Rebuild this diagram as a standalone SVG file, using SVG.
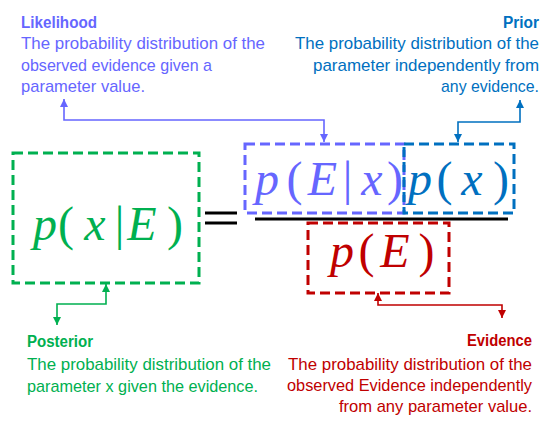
<svg xmlns="http://www.w3.org/2000/svg" width="554" height="426" viewBox="0 0 554 426">
<style>
.lbl{font-family:"Liberation Sans",Arial,sans-serif;font-size:17px}
.ttl{font-family:"Liberation Sans",Arial,sans-serif;font-size:16px;font-weight:bold}
.math{font-family:"Liberation Serif","DejaVu Serif",serif;font-size:48px;text-anchor:middle}
.it{font-style:italic}
.box{fill:none;stroke-width:3;stroke-dasharray:10 5}
.conn{fill:none;stroke-width:1.6}
</style>
<defs>
<marker id="aL" viewBox="0 0 10 10" refX="10" refY="5" markerWidth="8" markerHeight="8" markerUnits="userSpaceOnUse" orient="auto-start-reverse"><path d="M0,0L10,5L0,10z" fill="#6666FF"/></marker>
<marker id="aP" viewBox="0 0 10 10" refX="10" refY="5" markerWidth="8" markerHeight="8" markerUnits="userSpaceOnUse" orient="auto-start-reverse"><path d="M0,0L10,5L0,10z" fill="#0070C0"/></marker>
<marker id="aG" viewBox="0 0 10 10" refX="10" refY="5" markerWidth="8" markerHeight="8" markerUnits="userSpaceOnUse" orient="auto-start-reverse"><path d="M0,0L10,5L0,10z" fill="#00B050"/></marker>
<marker id="aR" viewBox="0 0 10 10" refX="10" refY="5" markerWidth="8" markerHeight="8" markerUnits="userSpaceOnUse" orient="auto-start-reverse"><path d="M0,0L10,5L0,10z" fill="#C00000"/></marker>
</defs>
<rect width="554" height="426" fill="#fff"/>

<g id="likelihood-label" fill="#6666FF">
<text class="ttl" x="21" y="28" textLength="76" lengthAdjust="spacingAndGlyphs">Likelihood</text>
<text class="lbl" x="21" y="49" textLength="244" lengthAdjust="spacingAndGlyphs">The probability distribution of the</text>
<text class="lbl" x="21" y="70.5" textLength="191" lengthAdjust="spacingAndGlyphs">observed evidence given a</text>
<text class="lbl" x="21" y="92" textLength="124" lengthAdjust="spacingAndGlyphs">parameter value.</text>
</g>

<g id="prior-label" fill="#0070C0" text-anchor="end">
<text class="ttl" x="539" y="28" textLength="36" lengthAdjust="spacingAndGlyphs">Prior</text>
<text class="lbl" x="539" y="49" textLength="244" lengthAdjust="spacingAndGlyphs">The probability distribution of the</text>
<text class="lbl" x="539" y="70.5" textLength="226" lengthAdjust="spacingAndGlyphs">parameter independently from</text>
<text class="lbl" x="539" y="92" textLength="98" lengthAdjust="spacingAndGlyphs">any evidence.</text>
</g>

<g id="posterior-label" fill="#00B050">
<text class="ttl" x="27" y="347" textLength="66" lengthAdjust="spacingAndGlyphs">Posterior</text>
<text class="lbl" x="27" y="370" textLength="244" lengthAdjust="spacingAndGlyphs">The probability distribution of the</text>
<text class="lbl" x="27" y="391.5" textLength="231" lengthAdjust="spacingAndGlyphs">parameter x given the evidence.</text>
</g>

<g id="evidence-label" fill="#C00000" text-anchor="end">
<text class="ttl" x="532" y="346" textLength="65" lengthAdjust="spacingAndGlyphs">Evidence</text>
<text class="lbl" x="532" y="370" textLength="244" lengthAdjust="spacingAndGlyphs">The probability distribution of the</text>
<text class="lbl" x="532" y="391" textLength="245" lengthAdjust="spacingAndGlyphs">observed Evidence independently</text>
<text class="lbl" x="532" y="412" textLength="193" lengthAdjust="spacingAndGlyphs">from any parameter value.</text>
</g>

<g id="posterior">
<rect class="box" x="13" y="153" width="186" height="130" stroke="#00B050"/>
<text class="math" y="240" fill="#00B050"><tspan class="it" x="45">p</tspan><tspan x="66">(</tspan><tspan class="it" x="95">x</tspan><tspan x="119.5">|</tspan><tspan class="it" x="142">E</tspan><tspan x="175">)</tspan></text>
</g>

<g id="equals" stroke="#000" stroke-width="3">
<line x1="205" y1="213" x2="237" y2="213"/>
<line x1="205" y1="223" x2="237" y2="223"/>
</g>

<g id="fraction-bar">
<line x1="255" y1="219" x2="508" y2="219" stroke="#000" stroke-width="3"/>
</g>

<g id="likelihood">
<rect class="box" x="245" y="144" width="159" height="69" stroke="#6666FF"/>
<text class="math" y="195" fill="#6666FF"><tspan class="it" x="267">p</tspan><tspan x="294.5">(</tspan><tspan class="it" x="322.5">E</tspan><tspan x="347.5">|</tspan><tspan class="it" x="372">x</tspan><tspan x="395">)</tspan></text>
</g>

<g id="prior">
<rect class="box" x="404" y="144" width="110" height="69" stroke="#0070C0"/>
<text class="math" y="195" fill="#0070C0"><tspan class="it" x="420">p</tspan><tspan x="444.5">(</tspan><tspan class="it" x="472">x</tspan><tspan x="501">)</tspan></text>
</g>

<g id="evidence">
<rect class="box" x="308" y="223" width="141" height="70" stroke="#C00000"/>
<text class="math" y="267" fill="#C00000"><tspan class="it" x="342">p</tspan><tspan x="366.5">(</tspan><tspan class="it" x="395">E</tspan><tspan x="426.5">)</tspan></text>
</g>

<g id="connectors">
<path class="conn" d="M64,99V120H324V142" stroke="#6666FF" marker-start="url(#aL)" marker-end="url(#aL)"/>
<path class="conn" d="M520,100V122H458V142" stroke="#0070C0" marker-start="url(#aP)" marker-end="url(#aP)"/>
<path class="conn" d="M106,284V304H57V325" stroke="#00B050" marker-start="url(#aG)" marker-end="url(#aG)"/>
<path class="conn" d="M378,293V305H502V318" stroke="#C00000" marker-start="url(#aR)" marker-end="url(#aR)"/>
</g>
</svg>
